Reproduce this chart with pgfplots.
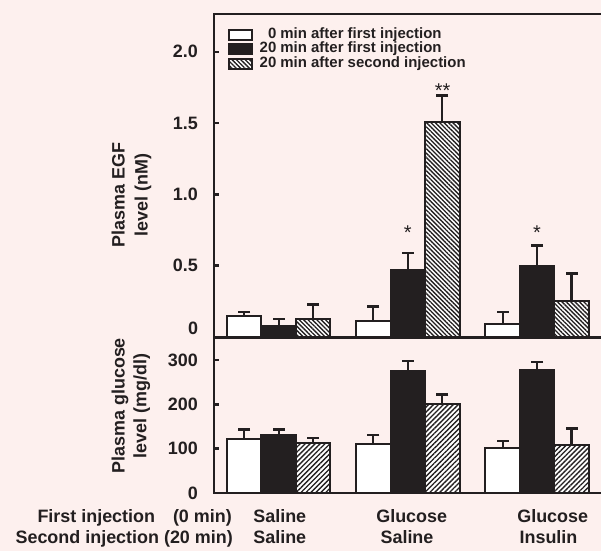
\documentclass[border=0pt]{standalone}
\usepackage{pgfplots}
\pgfplotsset{compat=1.18}
\usepackage{pgfplotstable}
\usetikzlibrary{patterns.meta}
\usepackage{fontspec}
\setmainfont{Liberation Sans}
\definecolor{bg}{RGB}{253,240,238}
\definecolor{ink}{RGB}{35,31,32}

% Plasma EGF (nM)
\pgfplotstableread{
x y e
0 0.150 0.025
1 0.110 0.105
2 0.090 0.086
}\egfA
\pgfplotstableread{
x y e
0 0.077 0.050
1 0.473 0.117
2 0.500 0.140
}\egfB
\pgfplotstableread{
x y e
0 0.126 0.100
1 1.506 0.186
2 0.254 0.190
}\egfC
% Plasma glucose (mg/dl)
\pgfplotstableread{
x y e
0 123 21
1 111 20
2 101 16
}\gluA
\pgfplotstableread{
x y e
0 130 13
1 276 22
2 278 18
}\gluB
\pgfplotstableread{
x y e
0 114 10
1 201 22
2 109 37
}\gluC

\pgfplotsset{
  common/.style={
    scale only axis, width=389bp, xmin=-0.5, xmax=2.51, ymin=0,
    bar width=34.5bp, clip=false,
    axis line style={line width=2.5bp, draw=ink},
    xtick=\empty, ytick pos=left, tick align=inside,
    major tick length=5bp, tick style={line width=2.5bp, draw=ink},
    /pgf/number format/assume math mode=true,
    yticklabel style={font=\fontsize{18}{20}\selectfont\bfseries, text=ink, inner sep=0pt, xshift=-16bp},
    ylabel style={anchor=center, align=center, text=ink},
  },
  wbar/.style={ybar, draw=ink, line width=2bp, fill=white, bar shift=-34.5bp},
  bbar/.style={ybar, draw=ink, line width=2bp, fill=ink, bar shift=0pt},
  hbarA/.style={ybar, draw=ink, line width=2bp, preaction={fill=white},
    pattern={Lines[angle=-45, distance=3.1bp, line width=1.35bp]}, pattern color=ink, bar shift=34.5bp},
  hbarB/.style={ybar, draw=ink, line width=2bp, preaction={fill=white},
    pattern={Lines[angle=45, distance=3.5bp, line width=1.35bp]}, pattern color=ink, bar shift=34.5bp},
  caps/.style={only marks, forget plot, mark=-, mark size=6bp,
    mark options={line width=2.6bp, draw=ink},
    error bars/y dir=minus, error bars/y explicit, error bars/error mark=none,
    error bars/error bar style={line width=2.2bp, draw=ink}},
}

\begin{document}
\begin{tikzpicture}
\useasboundingbox (0,0) rectangle (601bp,-551bp);
\fill[bg] (0,0) rectangle (601bp,-551bp);

\begin{axis}[common, at={(214bp,-337bp)}, anchor=south west,
  height=323bp, ymax=2.265, ytick={0.5,1,1.5,2},
  yticklabel style={/pgf/number format/fixed, /pgf/number format/fixed zerofill, /pgf/number format/precision=1},
  ylabel={Plasma EGF\\level (nM)},
  ylabel style={at={(axis description cs:-0.212,0.44)}, font=\fontsize{18}{23}\selectfont\bfseries},
  legend image code/.code={\draw[#1] (0bp,-5bp) rectangle (23bp,5bp);},
  legend style={draw=none, fill=none, at={(axis description cs:0,1)}, anchor=north west,
    xshift=14bp, yshift=-13.5bp, inner sep=0pt, row sep=0pt,
    font=\fontsize{15}{15}\selectfont\bfseries, text=ink,
    nodes={inner sep=0.5bp, text height=10bp, text depth=3.5bp},
    /tikz/every odd column/.append style={column sep=6bp}},
  legend cell align=left,
]
\addplot[wbar] table[x=x, y=y] {\egfA};
\addlegendentry{\phantom{2}0 min after first injection}
\addplot[bbar] table[x=x, y=y] {\egfB};
\addlegendentry{20 min after first injection}
\addplot[hbarA] table[x=x, y=y] {\egfC};
\addlegendentry{20 min after second injection}
\addplot[caps] table[x expr=\thisrow{x}-0.2669, y expr=\thisrow{y}+\thisrow{e}, y error=e] {\egfA};
\addplot[caps] table[x expr=\thisrow{x}, y expr=\thisrow{y}+\thisrow{e}, y error=e] {\egfB};
\addplot[caps] table[x expr=\thisrow{x}+0.2669, y expr=\thisrow{y}+\thisrow{e}, y error=e] {\egfC};
\node[anchor=east, inner sep=0pt, text=ink, font=\fontsize{18}{20}\selectfont\bfseries, xshift=-15.7bp, yshift=9bp] at (axis cs:-0.5,0) {0};
\node[text=ink, font=\fontsize{20}{20}\selectfont, yshift=-3bp] at (axis cs:1,0.75) {*};
\node[text=ink, font=\fontsize{20}{20}\selectfont, yshift=-3bp] at (axis cs:2,0.75) {*};
\node[text=ink, font=\fontsize{20}{20}\selectfont, yshift=-3bp] at (axis cs:1.269,1.752) {**};
\end{axis}

\begin{axis}[common, at={(214bp,-493bp)}, anchor=south west,
  height=155bp, ymax=350, ytick={0,100,200,300},
  ylabel={Plasma glucose\\level (mg/dl)},
  ylabel style={at={(axis description cs:-0.2136,0.5626)}, font=\fontsize{18}{21.7}\selectfont\bfseries},
]
\addplot[wbar] table[x=x, y=y] {\gluA};
\addplot[bbar] table[x=x, y=y] {\gluB};
\addplot[hbarB] table[x=x, y=y] {\gluC};
\addplot[caps] table[x expr=\thisrow{x}-0.2669, y expr=\thisrow{y}+\thisrow{e}, y error=e] {\gluA};
\addplot[caps] table[x expr=\thisrow{x}, y expr=\thisrow{y}+\thisrow{e}, y error=e] {\gluB};
\addplot[caps] table[x expr=\thisrow{x}+0.2669, y expr=\thisrow{y}+\thisrow{e}, y error=e] {\gluC};
\end{axis}

\begin{scope}[every node/.style={text=ink, font=\fontsize{18}{20}\selectfont\bfseries, inner sep=0pt}]
\node[anchor=base east] at (232bp,-522.3bp) {First injection\quad(0 min)};
\node[anchor=base east] at (233bp,-543bp) {Second injection (20 min)};
\node[anchor=base] at (279.8bp,-522.3bp) {Saline};
\node[anchor=base] at (279.8bp,-543bp) {Saline};
\node[anchor=base] at (411.7bp,-522.3bp) {Glucose};
\node[anchor=base] at (407bp,-543bp) {Saline};
\node[anchor=base] at (552.7bp,-522.3bp) {Glucose};
\node[anchor=base] at (548.5bp,-543bp) {Insulin};
\end{scope}
\end{tikzpicture}
\end{document}
